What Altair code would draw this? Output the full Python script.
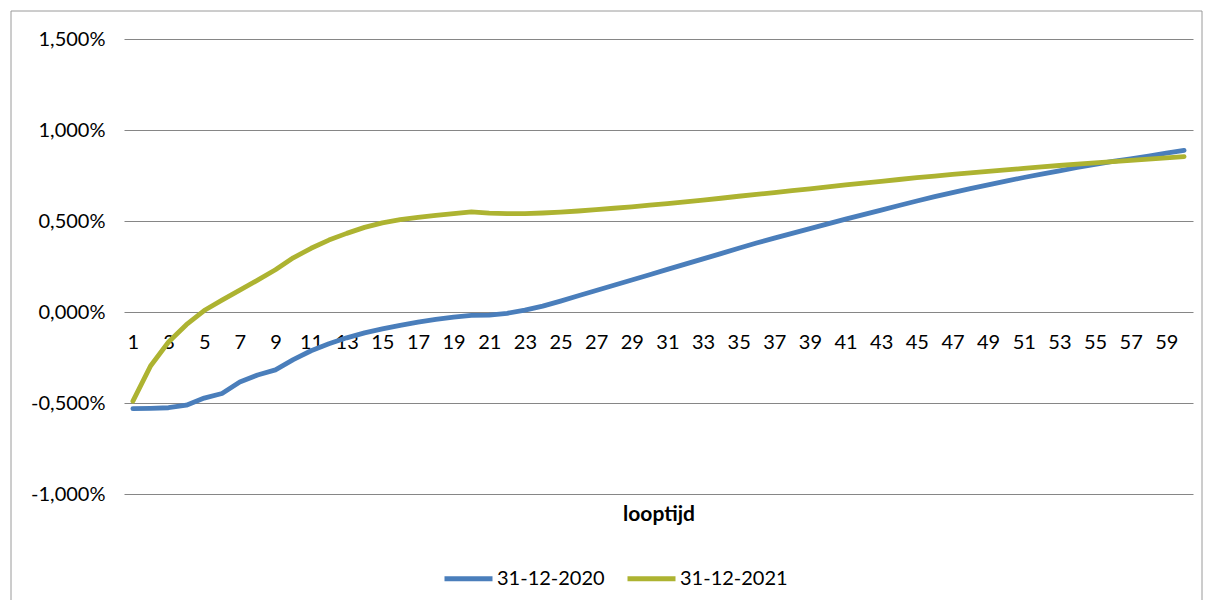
import altair as alt
import pandas as pd

# ---- data ----
looptijd = list(range(1, 61))

rente_2020 = [
    -0.531, -0.529, -0.526, -0.512, -0.473, -0.448, -0.385, -0.346, -0.318, -0.262,
    -0.213, -0.175, -0.142, -0.115, -0.093, -0.073, -0.056, -0.041, -0.028, -0.019,
    -0.017, -0.007, 0.010, 0.032, 0.060, 0.089, 0.118, 0.147, 0.176, 0.205,
    0.234, 0.263, 0.292, 0.321, 0.350, 0.379, 0.406, 0.432, 0.458, 0.484,
    0.510, 0.535, 0.560, 0.585, 0.610, 0.634, 0.656, 0.678, 0.699, 0.719,
    0.739, 0.758, 0.776, 0.794, 0.811, 0.827, 0.842, 0.857, 0.873, 0.888,
]

rente_2021 = [
    -0.490, -0.295, -0.165, -0.070, 0.008, 0.065, 0.120, 0.175, 0.232, 0.298,
    0.350, 0.395, 0.432, 0.465, 0.490, 0.507, 0.520, 0.531, 0.541, 0.550,
    0.543, 0.540, 0.541, 0.544, 0.549, 0.555, 0.562, 0.570, 0.578, 0.587,
    0.596, 0.605, 0.615, 0.625, 0.636, 0.646, 0.656, 0.667, 0.677, 0.688,
    0.698, 0.708, 0.718, 0.728, 0.738, 0.747, 0.756, 0.765, 0.773, 0.781,
    0.789, 0.797, 0.805, 0.812, 0.819, 0.826, 0.833, 0.840, 0.847, 0.854,
]

series = ["31-12-2020", "31-12-2021"]
colors = ["#4A7EBB", "#ADB331"]
y_ticks = [-1.0, -0.5, 0.0, 0.5, 1.0, 1.5]
x_ticks = [1, 3, 5, 7, 9, 11, 13, 15, 17, 19, 21, 23, 25, 27, 29,
           31, 33, 35, 37, 39, 41, 43, 45, 47, 49, 51, 53, 55, 57, 59]

df = pd.DataFrame({
    "looptijd": looptijd + looptijd,
    "rente": rente_2020 + rente_2021,
    "serie": [series[0]] * len(looptijd) + [series[1]] * len(looptijd),
})

FONT = "Lato"
W, H = 1069, 455

lines = alt.Chart(df).mark_line(
    strokeWidth=4.8, strokeCap="round", strokeJoin="round"
).encode(
    x=alt.X(
        "looptijd:Q",
        scale=alt.Scale(domain=[0.5, 60.5], nice=False, zero=False),
        axis=alt.Axis(
            values=x_ticks, title="looptijd", offset=-182,
            domain=False, ticks=False, grid=False,
            labelPadding=20, labelFont=FONT, labelFontSize=20,
            labelColor="#000000", labelFlush=False, labelOverlap=False,
            titleFont=FONT, titleFontSize=21, titleFontWeight="bold",
            titleColor="#000000", titleY=208, titleBaseline="alphabetic",
        ),
    ),
    y=alt.Y(
        "rente:Q",
        scale=alt.Scale(domain=[-1.0, 1.5], nice=False, zero=False),
        axis=alt.Axis(
            values=y_ticks, title=None, domain=False, ticks=False,
            gridColor="#868686", gridWidth=1, gridOpacity=1,
            labelPadding=19, labelFont=FONT, labelFontSize=20,
            labelColor="#000000",
            labelExpr="(datum.value < 0 ? '-' : '') + replace(format(abs(datum.value), '.3f'), '.', ',') + '%'",
        ),
    ),
    color=alt.Color(
        "serie:N",
        scale=alt.Scale(domain=series, range=colors),
        legend=alt.Legend(
            title=None, orient="none", direction="horizontal",
            legendX=318, legendY=513, padding=0,
            symbolType="stroke", symbolSize=2304, symbolStrokeWidth=4.8,
            labelFont=FONT, labelFontSize=20, labelColor="#000000",
            labelOffset=2, columnPadding=12,
        ),
    ),
)

frame_df = pd.DataFrame({"k": [0]})
frame_color = "#9a9a9a"
left_edge = alt.Chart(frame_df).mark_rule(color=frame_color, strokeWidth=1).encode(
    x=alt.value(-113), y=alt.value(-28), y2=alt.value(561)
)
top_edge = alt.Chart(frame_df).mark_rule(color=frame_color, strokeWidth=1).encode(
    x=alt.value(-113), x2=alt.value(1078), y=alt.value(-28)
)
right_edge = alt.Chart(frame_df).mark_rule(color=frame_color, strokeWidth=1).encode(
    x=alt.value(1078), y=alt.value(-28), y2=alt.value(561)
)

chart = alt.layer(lines, left_edge, top_edge, right_edge).properties(
    width=W, height=H,
    padding={"left": 10, "top": 10, "right": 2, "bottom": 0},
    background="#ffffff",
).configure_view(stroke=None)

chart.save("out.html", embed_options={"renderer": "svg", "actions": False})
